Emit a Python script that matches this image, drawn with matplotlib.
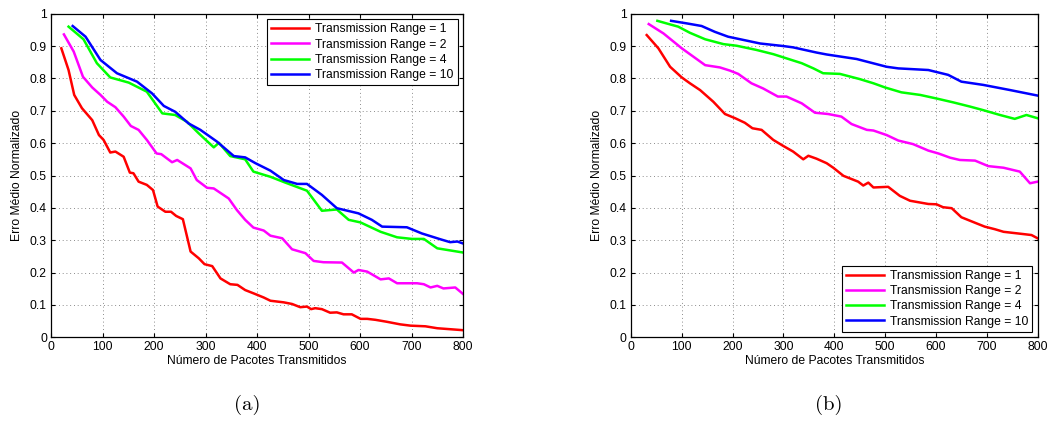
import numpy as np
import matplotlib
matplotlib.use("Agg")
from matplotlib import pyplot as plt

plt.rcParams['font.family'] = ['Liberation Sans', 'DejaVu Sans']

# (a)
a_r1_x = [20, 34, 45, 60, 80, 93, 102, 115, 125, 141, 153, 160, 170, 186, 198, 207, 222, 233, 243, 256, 271, 287, 298, 313, 329, 348, 362, 377, 393, 413, 426, 452, 468, 484, 497, 505, 513, 526, 542, 555, 568, 584, 601, 614, 630, 652, 678, 698, 727, 750, 775, 800]
a_r1_y = [0.893, 0.826, 0.749, 0.708, 0.671, 0.625, 0.610, 0.571, 0.574, 0.558, 0.509, 0.507, 0.481, 0.471, 0.455, 0.404, 0.388, 0.388, 0.375, 0.365, 0.265, 0.244, 0.226, 0.220, 0.182, 0.164, 0.162, 0.146, 0.136, 0.123, 0.113, 0.108, 0.103, 0.093, 0.095, 0.087, 0.090, 0.087, 0.076, 0.077, 0.071, 0.071, 0.057, 0.057, 0.054, 0.048, 0.040, 0.036, 0.034, 0.028, 0.025, 0.022]
a_r2_x = [25, 44, 62, 80, 96, 109, 125, 141, 155, 170, 186, 205, 214, 235, 245, 271, 283, 303, 316, 345, 361, 377, 393, 413, 426, 449, 468, 494, 510, 529, 565, 588, 597, 614, 640, 656, 672, 711, 724, 737, 750, 762, 785, 800]
a_r2_y = [0.936, 0.883, 0.805, 0.772, 0.749, 0.728, 0.711, 0.682, 0.653, 0.641, 0.610, 0.568, 0.566, 0.541, 0.548, 0.522, 0.486, 0.462, 0.460, 0.429, 0.393, 0.363, 0.339, 0.330, 0.314, 0.306, 0.272, 0.260, 0.236, 0.232, 0.231, 0.200, 0.208, 0.203, 0.179, 0.182, 0.167, 0.167, 0.164, 0.154, 0.159, 0.151, 0.154, 0.134]
a_r4_x = [34, 63, 89, 115, 151, 186, 216, 241, 264, 287, 316, 326, 348, 377, 393, 426, 455, 497, 526, 555, 578, 601, 640, 672, 701, 724, 750, 800]
a_r4_y = [0.960, 0.921, 0.847, 0.803, 0.787, 0.759, 0.692, 0.687, 0.666, 0.630, 0.587, 0.601, 0.560, 0.550, 0.512, 0.496, 0.478, 0.453, 0.391, 0.395, 0.363, 0.355, 0.326, 0.309, 0.304, 0.304, 0.275, 0.262]
a_r10_x = [42, 67, 96, 128, 167, 196, 219, 241, 267, 290, 322, 355, 377, 397, 426, 452, 478, 497, 526, 555, 597, 623, 643, 691, 720, 756, 775, 789, 800]
a_r10_y = [0.962, 0.929, 0.857, 0.816, 0.790, 0.754, 0.715, 0.697, 0.661, 0.641, 0.605, 0.560, 0.556, 0.538, 0.515, 0.486, 0.474, 0.474, 0.440, 0.399, 0.383, 0.363, 0.342, 0.340, 0.321, 0.303, 0.294, 0.296, 0.290]

# (b)
b_r1_x = [31, 54, 77, 100, 116, 136, 162, 185, 205, 224, 239, 257, 280, 300, 319, 339, 349, 365, 385, 398, 418, 447, 457, 467, 477, 506, 529, 549, 585, 601, 614, 631, 650, 680, 696, 716, 733, 772, 788, 800]
b_r1_y = [0.934, 0.893, 0.836, 0.803, 0.785, 0.764, 0.728, 0.690, 0.677, 0.663, 0.646, 0.641, 0.610, 0.591, 0.574, 0.550, 0.561, 0.552, 0.538, 0.524, 0.499, 0.481, 0.469, 0.478, 0.463, 0.465, 0.437, 0.422, 0.412, 0.411, 0.402, 0.399, 0.371, 0.352, 0.342, 0.334, 0.326, 0.319, 0.316, 0.306]
b_r2_x = [35, 64, 100, 123, 146, 175, 195, 211, 237, 260, 289, 306, 336, 362, 388, 414, 434, 464, 477, 503, 526, 555, 585, 605, 628, 647, 677, 703, 733, 765, 785, 800]
b_r2_y = [0.968, 0.939, 0.893, 0.867, 0.841, 0.834, 0.824, 0.814, 0.785, 0.769, 0.744, 0.744, 0.723, 0.694, 0.690, 0.682, 0.659, 0.641, 0.639, 0.625, 0.608, 0.597, 0.577, 0.568, 0.555, 0.548, 0.546, 0.529, 0.524, 0.512, 0.476, 0.481]
b_r4_x = [52, 70, 93, 116, 146, 182, 208, 247, 280, 306, 336, 359, 378, 411, 450, 477, 500, 532, 569, 601, 634, 667, 693, 726, 755, 778, 800]
b_r4_y = [0.978, 0.970, 0.960, 0.941, 0.921, 0.906, 0.901, 0.888, 0.875, 0.862, 0.847, 0.831, 0.816, 0.814, 0.798, 0.785, 0.772, 0.757, 0.749, 0.738, 0.726, 0.713, 0.702, 0.687, 0.675, 0.687, 0.677]
b_r10_x = [79, 110, 139, 165, 191, 221, 254, 300, 319, 365, 385, 444, 503, 526, 585, 624, 650, 693, 746, 800]
b_r10_y = [0.978, 0.970, 0.962, 0.944, 0.929, 0.919, 0.908, 0.900, 0.896, 0.880, 0.874, 0.860, 0.836, 0.831, 0.826, 0.811, 0.790, 0.780, 0.764, 0.747]

labels = ['Transmission Range = 1', 'Transmission Range = 2',
          'Transmission Range = 4', 'Transmission Range = 10']
cores = ['#ff0000', '#ff00ff', '#00ff00', '#0000ff']

fig = plt.figure(figsize=(10.59, 4.23), dpi=100)
ax1 = fig.add_axes([0.0482, 0.2026, 0.389, 0.765])
ax2 = fig.add_axes([0.5958, 0.2026, 0.384, 0.765])

dados = [
    (ax1, [(a_r1_x, a_r1_y), (a_r2_x, a_r2_y), (a_r4_x, a_r4_y), (a_r10_x, a_r10_y)], 'upper right'),
    (ax2, [(b_r1_x, b_r1_y), (b_r2_x, b_r2_y), (b_r4_x, b_r4_y), (b_r10_x, b_r10_y)], 'lower right'),
]

for ax, series, loc in dados:
    for (x, y), c, lab in zip(series, cores, labels):
        ax.plot(x, y, color=c, lw=1.8, label=lab)
    ax.set_xlim(0, 800)
    ax.set_ylim(0, 1)
    ax.set_xticks(np.arange(0, 801, 100))
    ax.set_yticks(np.arange(0, 1.01, 0.1))
    ax.set_yticklabels(['0', '0.1', '0.2', '0.3', '0.4', '0.5', '0.6', '0.7', '0.8', '0.9', '1'])
    ax.grid(True, linestyle=(0, (1, 3.5)), color='#666666', lw=0.6)
    ax.tick_params(direction='in', top=True, right=True, labelsize=8.7, length=3, pad=3)
    for s in ax.spines.values():
        s.set_linewidth(0.9)
    ax.set_xlabel('Número de Pacotes Transmitidos', fontsize=8.7, labelpad=1)
    ax.set_ylabel('Erro Médio Normalizado', fontsize=8.7, labelpad=5)
    leg = ax.legend(loc=loc, fontsize=8.7, fancybox=False, framealpha=1,
                    edgecolor='black', borderaxespad=0.45, handlelength=3.1,
                    labelspacing=0.27, borderpad=0.35, handletextpad=0.5)
    leg.get_frame().set_linewidth(0.8)

fig.text(247 / 1059, 1 - 405 / 423, '(a)', fontsize=15, family='cmr10', ha='center', va='center')
fig.text(829 / 1059, 1 - 405 / 423, '(b)', fontsize=15, family='cmr10', ha='center', va='center')

fig.savefig('out.png', dpi=100)
